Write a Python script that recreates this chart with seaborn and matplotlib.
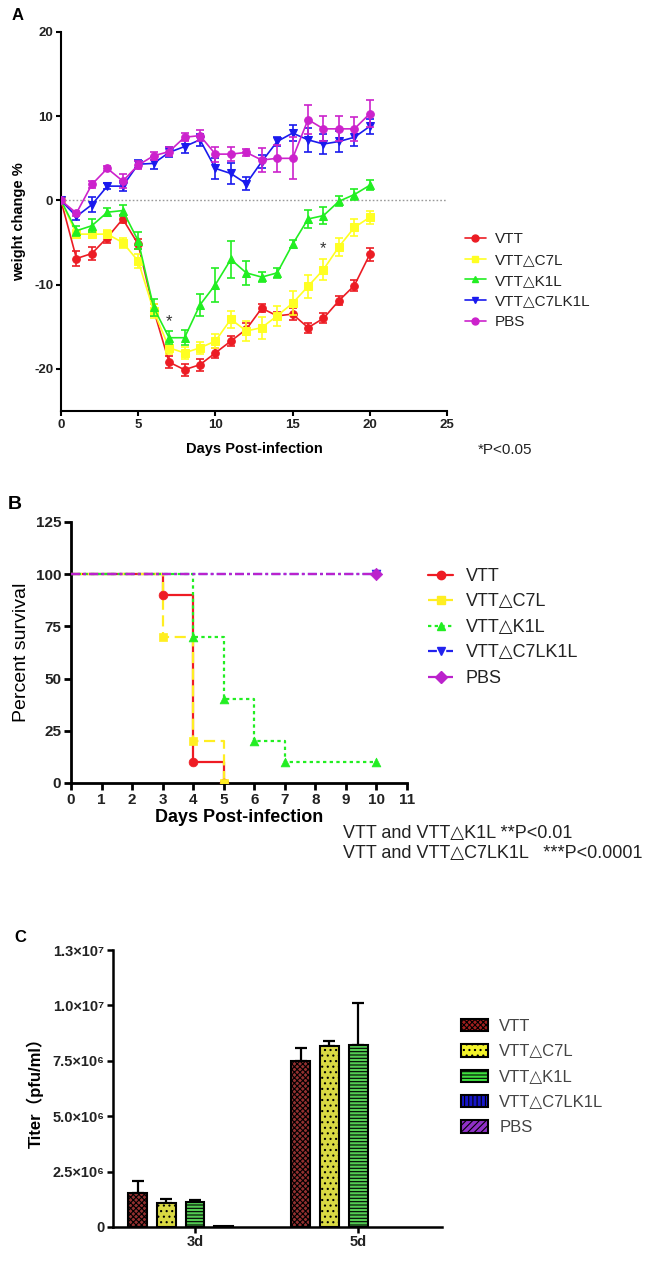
import numpy as np
import pandas as pd
import matplotlib
matplotlib.use("Agg")
import matplotlib.pyplot as plt
import seaborn as sns
from matplotlib.lines import Line2D
from matplotlib.patches import Patch

# ---------------- data ----------------
groups = ["VTT", "VTT\u25b3C7L", "VTT\u25b3K1L", "VTT\u25b3C7LK1L", "PBS"]

days_a = list(range(21))
vtt_w = [0, -6.9, -6.3, -4.4, -2.2, -5.2, -13.0, -19.2, -20.1, -19.5, -18.1, -16.7, -15.3, -12.8, -13.7, -13.5, -15.1, -14.0, -11.9, -10.1, -6.4]
c7l_w = [0, -4.0, -4.0, -4.0, -5.0, -7.2, -13.1, -17.5, -18.1, -17.5, -16.7, -14.1, -15.5, -15.1, -13.7, -12.2, -10.2, -8.2, -5.5, -3.2, -2.0]
k1l_w = [0, -3.6, -3.0, -1.4, -1.2, -4.8, -12.7, -16.3, -16.3, -12.4, -10.0, -7.0, -8.6, -9.1, -8.6, -5.2, -2.2, -1.8, -0.1, 0.7, 1.8]
c7lk1l_w = [0, -1.9, -0.5, 1.7, 1.7, 4.3, 4.4, 5.7, 6.4, 7.2, 3.8, 3.2, 2.0, 4.6, 7.0, 8.0, 7.2, 6.7, 7.0, 7.5, 8.8]
pbs_w = [0, -1.5, 1.9, 3.8, 2.3, 4.2, 5.3, 5.8, 7.5, 7.7, 5.5, 5.5, 5.7, 4.8, 5.0, 5.0, 9.6, 8.5, 8.5, 8.5, 10.3]

vtt_e = [0, 0.9, 0.8, 0.6, 0.5, 0.6, 0.7, 0.7, 0.7, 0.7, 0.6, 0.6, 0.7, 0.5, 0.5, 0.7, 0.6, 0.6, 0.5, 0.6, 0.8]
c7l_e = [0, 0.5, 0.5, 0.5, 0.6, 0.8, 0.8, 0.7, 0.7, 0.7, 0.8, 1.0, 1.2, 1.3, 1.2, 1.4, 1.4, 1.2, 1.1, 1.0, 0.8]
k1l_e = [0, 0.6, 0.8, 0.5, 0.6, 1.0, 1.0, 0.8, 0.9, 1.3, 2.0, 2.2, 1.4, 0.6, 0.6, 0.5, 1.1, 1.0, 0.6, 0.6, 0.6]
c7lk1l_e = [0, 0.4, 0.9, 0.4, 0.6, 0.5, 0.7, 0.6, 0.8, 0.7, 1.2, 1.3, 0.8, 0.8, 0.5, 1.0, 1.4, 1.2, 1.2, 1.0, 0.9]
pbs_e = [0, 0.3, 0.4, 0.3, 0.8, 0.5, 0.5, 0.5, 0.5, 0.7, 0.9, 0.8, 0.4, 1.4, 1.6, 2.5, 1.7, 1.5, 1.5, 1.4, 1.6]

vtt_t, vtt_s = [0, 3, 4, 5], [100, 90, 10, 0]
c7l_t, c7l_s = [0, 3, 4, 5], [100, 70, 20, 0]
k1l_t, k1l_s = [0, 4, 5, 6, 7, 10], [100, 70, 40, 20, 10, 10]
c7lk1l_t, c7lk1l_s = [0, 10], [100, 100]
pbs_t, pbs_s = [0, 10], [100, 100]

days_c = ["3d", "5d"]
vtt_titer = [1.55e6, 7.48e6]
c7l_titer = [1.08e6, 8.17e6]
k1l_titer = [1.12e6, 8.20e6]
c7lk1l_titer = [0.03e6, 0.0]
pbs_titer = [0.0, 0.0]
vtt_terr = [0.53e6, 0.62e6]
c7l_terr = [0.20e6, 0.22e6]
k1l_terr = [0.10e6, 1.92e6]
c7lk1l_terr = [0.0, 0.0]
pbs_terr = [0.0, 0.0]

pval_lines = ["VTT and VTT\u25b3K1L **P<0.01", "VTT and VTT\u25b3C7LK1L   ***P<0.0001"]
yticks_c = [0, 2.5e6, 5.0e6, 7.5e6, 1.0e7, 1.25e7]
yticklabels_c = ["0", "2.5\u00d710\u2076", "5.0\u00d710\u2076", "7.5\u00d710\u2076", "1.0\u00d710\u2077", "1.3\u00d710\u2077"]

# ---------------- style ----------------
sns.set_theme(style="ticks")
plt.rcParams["font.family"] = ["Liberation Sans", "DejaVu Sans", "Noto Sans CJK SC"]
plt.rcParams["text.color"] = "black"
plt.rcParams["axes.labelcolor"] = "black"
plt.rcParams["xtick.color"] = "black"
plt.rcParams["ytick.color"] = "black"
plt.rcParams["axes.edgecolor"] = "black"
plt.rcParams["axes.unicode_minus"] = False
plt.rcParams["hatch.linewidth"] = 0.8

W, H = 653, 1263
fig = plt.figure(figsize=(W / 100, H / 100), dpi=100)


def rect(l, t, r, b):
    return [l / W, 1 - b / H, (r - l) / W, (b - t) / H]


def fxy(x, y):
    return (x / W, 1 - y / H)


line_cols = ["#EC1C24", "#FFFF22", "#22EE22", "#1A1AEE", "#CC22CC"]
markers_a = ["o", "s", "^", "v", "o"]

# ---------------- Panel A ----------------
axA = fig.add_axes(rect(61, 32, 447, 411))
means = [vtt_w, c7l_w, k1l_w, c7lk1l_w, pbs_w]
errs = [vtt_e, c7l_e, k1l_e, c7lk1l_e, pbs_e]
axA.axhline(0, color="#9a9a9a", lw=1.0, ls=(0, (1.2, 1.5)), zorder=1)
for name, m, e, c, mk in zip(groups, means, errs, line_cols, markers_a):
    sns.lineplot(x=days_a, y=m, ax=axA, color=c, marker=mk, markersize=5.5,
                 markeredgecolor=c, linewidth=1.2, legend=False, zorder=3)
    axA.errorbar(days_a, m, yerr=e, fmt="none", ecolor=c, elinewidth=1.2,
                 capsize=3, capthick=1.2, zorder=3)
axA.text(7, -15.3, "*", ha="center", va="bottom", fontsize=12, color="#333333")
axA.text(17, -6.6, "*", ha="center", va="bottom", fontsize=12, color="#333333")
axA.set_xlim(0, 25)
axA.set_ylim(-25, 20)
axA.set_xticks([0, 5, 10, 15, 20, 25])
axA.set_yticks([-20, -10, 0, 10, 20])
axA.set_xlabel("Days Post-infection", fontsize=10.5, fontweight="bold", labelpad=8)
axA.set_ylabel("weight change %", fontsize=10.5, fontweight="bold", labelpad=6)
for s in ["top", "right"]:
    axA.spines[s].set_visible(False)
for s in ["left", "bottom"]:
    axA.spines[s].set_linewidth(1.5)
axA.tick_params(width=1.5, length=3.5, labelsize=9.5, pad=2)
for lab in axA.get_xticklabels() + axA.get_yticklabels():
    lab.set_fontweight("bold")
    lab.set_color("#222222")

hA = [Line2D([0], [0], color=c, marker=mk, markersize=5, markeredgecolor=c, lw=1.2)
      for c, mk in zip(line_cols, markers_a)]
fig.legend(hA, groups, loc="upper left", bbox_to_anchor=fxy(465, 232), frameon=False,
           fontsize=11, handlelength=1.35, handletextpad=0.6, labelspacing=0.45,
           borderpad=0, borderaxespad=0, labelcolor="#222222")
fig.text(478 / W, 1 - 450 / H, "*P<0.05", fontsize=11, va="center", ha="left", color="#222222")
fig.text(12 / W, 1 - 16 / H, "A", fontsize=12, fontweight="bold", va="center", ha="left")

# ---------------- Panel B ----------------
axB = fig.add_axes(rect(71, 522, 407, 783))
surv_t = [vtt_t, c7l_t, k1l_t, c7lk1l_t, pbs_t]
surv_s = [vtt_s, c7l_s, k1l_s, c7lk1l_s, pbs_s]
b_cols = ["#EE1C24", "#FFEE22", "#22EE22", "#2222EE", "#BB22CC"]
b_ls = ["-", (0, (5, 2.5)), (0, (1.5, 1.5)), (0, (4, 1.5, 1.2, 1.5)), (0, (4, 1.5, 1.2, 1.5))]
b_mk = ["o", "s", "^", "v", "D"]
for t, s, c, ls, mk in zip(surv_t, surv_s, b_cols, b_ls, b_mk):
    sns.lineplot(x=t, y=s, ax=axB, color=c, linestyle=ls, drawstyle="steps-post",
                 linewidth=1.6, legend=False, zorder=3)
    sns.scatterplot(x=t[1:], y=s[1:], ax=axB, color=c, marker=mk, s=40,
                    edgecolor=c, linewidth=0.5, legend=False, zorder=4)
axB.set_xlim(0, 11)
axB.set_ylim(0, 125)
axB.set_xticks(range(0, 12))
axB.set_yticks([0, 25, 50, 75, 100, 125])
axB.set_xlabel("Days Post-infection", fontsize=13, fontweight="bold", labelpad=2)
axB.set_ylabel("Percent survival", fontsize=14, labelpad=4)
for s in ["top", "right"]:
    axB.spines[s].set_visible(False)
for s in ["left", "bottom"]:
    axB.spines[s].set_linewidth(2)
axB.tick_params(width=2, length=5, labelsize=11, pad=2)
for lab in axB.get_xticklabels() + axB.get_yticklabels():
    lab.set_fontweight("bold")
    lab.set_color("#222222")

hB = [Line2D([0], [0], color=c, marker=mk, markersize=6, markeredgecolor=c, lw=1.6, linestyle=ls)
      for c, mk, ls in zip(b_cols, b_mk, b_ls)]
fig.legend(hB, groups, loc="upper left", bbox_to_anchor=fxy(428, 568), frameon=False,
           fontsize=13, handlelength=1.4, handletextpad=0.7, labelspacing=0.47,
           borderpad=0, borderaxespad=0, labelcolor="#222222")
fig.text(343 / W, 1 - 833 / H, pval_lines[0], fontsize=13, va="center", ha="left", color="#222222")
fig.text(343 / W, 1 - 854 / H, pval_lines[1], fontsize=13, va="center", ha="left", color="#222222")
fig.text(8 / W, 1 - 505 / H, "B", fontsize=14, fontweight="bold", va="center", ha="left")

# ---------------- Panel C ----------------
axC = fig.add_axes(rect(113, 950, 442, 1227))
titers = [vtt_titer, c7l_titer, k1l_titer, c7lk1l_titer, pbs_titer]
terrs = [vtt_terr, c7l_terr, k1l_terr, c7lk1l_terr, pbs_terr]
df = pd.DataFrame({
    "day": [d for _ in groups for d in days_c],
    "group": [g for g in groups for _ in days_c],
    "titer": [v for tv in titers for v in tv],
    "err": [v for te in terrs for v in te],
})
c_cols = ["#A3201F", "#F2F22A", "#3FE03F", "#1515C8", "#9030C8"]
c_hatch = ["xxxxxx", "...", "-----", "||||", "/////"]
total_w = 0.88
sns.barplot(data=df, x="day", y="titer", hue="group", hue_order=groups, order=days_c,
            palette=c_cols, width=total_w, gap=0.34, edgecolor="black", linewidth=1.5,
            errorbar=None, legend=False, ax=axC, zorder=2)
slot = total_w / len(groups)
for p in axC.patches:
    cx = p.get_x() + p.get_width() / 2
    cat = int(round(cx))
    gi = int(round((cx - cat + total_w / 2 - slot / 2) / slot))
    if gi < 0 or gi >= len(groups):
        continue
    p.set_hatch(c_hatch[gi])
    row = df[(df["group"] == groups[gi]) & (df["day"] == days_c[cat])].iloc[0]
    if row["titer"] <= 0:
        p.set_visible(False)
    if row["err"] > 0:
        axC.errorbar([cx], [row["titer"]], yerr=[[0], [row["err"]]], fmt="none",
                     ecolor="black", elinewidth=1.6, capsize=4, capthick=1.6, zorder=1)
axC.set_xlim(-0.503, 1.515)
axC.set_ylim(0, 1.25e7)
axC.set_yticks(yticks_c)
axC.set_yticklabels(yticklabels_c)
axC.set_xlabel("")
axC.set_ylabel("Titer\uff08pfu/ml\uff09", fontsize=12, fontweight="bold", labelpad=6)
for s in ["top", "right"]:
    axC.spines[s].set_visible(False)
for s in ["left", "bottom"]:
    axC.spines[s].set_linewidth(1.8)
axC.tick_params(width=1.8, length=4, labelsize=10.5, pad=2)
for lab in axC.get_xticklabels() + axC.get_yticklabels():
    lab.set_fontweight("bold")
    lab.set_color("#222222")

hC = [Patch(facecolor=c, edgecolor="black", hatch=h, linewidth=1.5) for c, h in zip(c_cols, c_hatch)]
fig.legend(hC, groups, loc="upper left", bbox_to_anchor=fxy(461, 1019), frameon=False,
           fontsize=12, handlelength=1.6, handleheight=0.75, handletextpad=0.7, labelspacing=0.62,
           borderpad=0, borderaxespad=0, labelcolor="#444444")
fig.text(14 / W, 1 - 938 / H, "C", fontsize=12, fontweight="bold", va="center", ha="left")

fig.savefig("out.png", dpi=100, facecolor="white")
